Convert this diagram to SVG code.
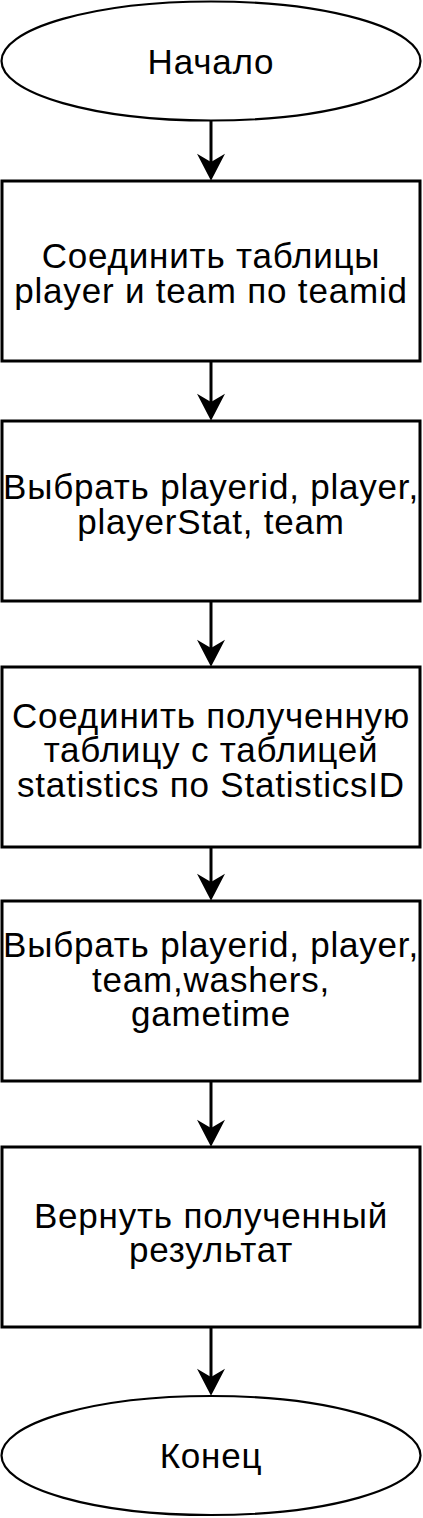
<svg xmlns="http://www.w3.org/2000/svg" width="423" height="1518" viewBox="0 0 423 1518">
<style>
  .box { fill: #ffffff; stroke: #000000; stroke-width: 3; }
  .term { fill: #ffffff; stroke: #000000; stroke-width: 2.2; }
  .lbl { font-family: "Liberation Sans", Arial, sans-serif; font-size: 35px; letter-spacing: 0.8px; fill: #000000; text-anchor: middle; }
  .edge { stroke: #000000; stroke-width: 3; fill: none; marker-end: url(#arrow); }
</style>
<defs>
  <marker id="arrow" markerUnits="userSpaceOnUse" markerWidth="28" markerHeight="28" viewBox="0 0 26 27" refX="8" refY="13.5" orient="auto">
    <path d="M0 0 L26 13.5 L0 27 L8 13.5 Z" fill="#000000"/>
  </marker>
</defs>
<rect width="423" height="1518" fill="#ffffff"/>
<g id="connectors">
  <line class="edge" x1="211" y1="121" x2="211" y2="162"/>
  <line class="edge" x1="211" y1="361" x2="211" y2="402"/>
  <line class="edge" x1="211" y1="601" x2="211" y2="648"/>
  <line class="edge" x1="211" y1="847" x2="211" y2="882"/>
  <line class="edge" x1="211" y1="1081" x2="211" y2="1128"/>
  <line class="edge" x1="211" y1="1327" x2="211" y2="1377"/>
</g>
<g id="start">
  <ellipse class="term" cx="211" cy="61" rx="209.5" ry="59.5"/>
  <text class="lbl" x="211" y="73.5">Начало</text>
</g>
<g id="step1">
  <rect class="box" x="2" y="181" width="418" height="180"/>
  <text class="lbl" x="211" y="267.5">Соединить таблицы</text>
  <text class="lbl" x="211" y="303">player и team по teamid</text>
</g>
<g id="step2">
  <rect class="box" x="2" y="421" width="418" height="180"/>
  <text class="lbl" x="211" y="498.5">Выбрать playerid, player,</text>
  <text class="lbl" x="211" y="533.5">playerStat, team</text>
</g>
<g id="step3">
  <rect class="box" x="2" y="667" width="418" height="180"/>
  <text class="lbl" x="211" y="727.5">Соединить полученную</text>
  <text class="lbl" x="211" y="762">таблицу с таблицей</text>
  <text class="lbl" x="211" y="796.5">statistics по StatisticsID</text>
</g>
<g id="step4">
  <rect class="box" x="2" y="901" width="418" height="180"/>
  <text class="lbl" x="211" y="956.5">Выбрать playerid, player,</text>
  <text class="lbl" x="211" y="991.5">team,washers,</text>
  <text class="lbl" x="211" y="1026">gametime</text>
</g>
<g id="step5">
  <rect class="box" x="2" y="1147" width="418" height="180"/>
  <text class="lbl" x="211" y="1227.5">Вернуть полученный</text>
  <text class="lbl" x="211" y="1262">результат</text>
</g>
<g id="end">
  <ellipse class="term" cx="211" cy="1455.5" rx="209.5" ry="59.5"/>
  <text class="lbl" x="211" y="1468">Конец</text>
</g>
</svg>
